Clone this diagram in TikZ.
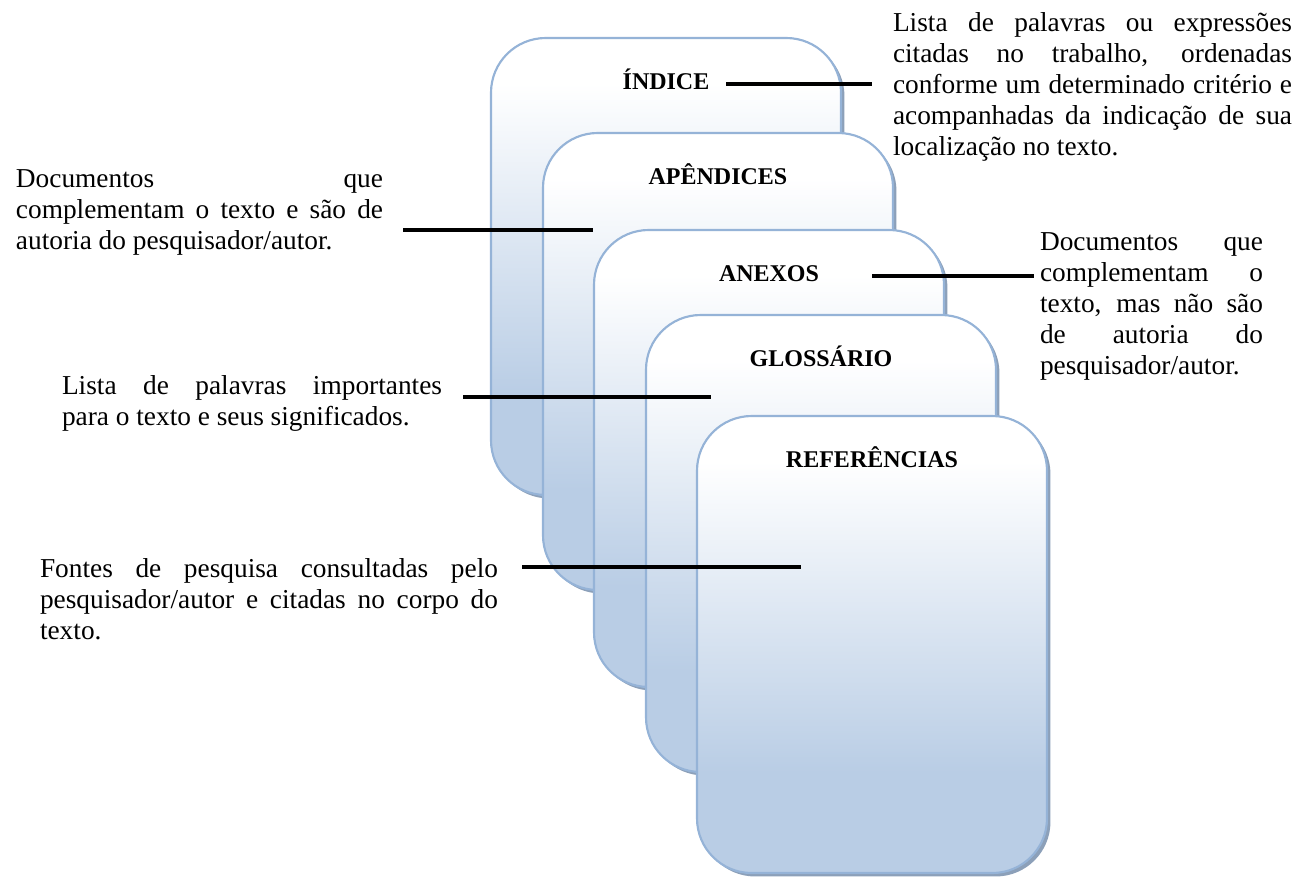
\documentclass[tikz,border=0pt]{standalone}
\usepackage{fontspec}
\setmainfont{Liberation Serif}
\usetikzlibrary{shadows,calc}
\definecolor{cardedge}{RGB}{149,179,215}
\definecolor{cardbot}{RGB}{185,205,229}
\definecolor{cardshadow}{RGB}{140,160,185}
\pgfdeclareverticalshading{cardshade}{100bp}{color(0bp)=(cardbot); color(36bp)=(cardbot); color(70bp)=(white); color(100bp)=(white)}
\newcommand\bodyfont{\fontsize{20.5pt}{23.1pt}\selectfont}
\newcommand\titlefont{\fontsize{18pt}{21pt}\selectfont\bfseries}
\tikzset{
  card/.style={draw=cardedge, line width=1.6pt, rounded corners=41pt, shading=cardshade,
    minimum width=262.5pt, minimum height=342.75pt, anchor=north west, inner sep=0pt, outer sep=0pt,
    drop shadow={shadow xshift=2.6pt, shadow yshift=-2.6pt, fill=cardshadow, opacity=1}},
  ttl/.style={anchor=base, inner sep=0pt, font=\titlefont},
  txt/.style={anchor=north west, inner sep=0pt, outer sep=0pt, align=justify, font=\bodyfont,
    execute at begin node={\tolerance=10000\hyphenpenalty=10000\emergencystretch=0pt}},
  conn/.style={line width=3.6pt, black}
}
\begin{document}
\begin{tikzpicture}[x=0.75pt,y=-0.75pt]
\useasboundingbox (0,0) rectangle (1312,879);
% cards
\node[card] (c1) at (491,38) {};
\node[card] (c2) at (543,133) {};
\node[card] (c3) at (594,230) {};
\node[card] (c4) at (646,315) {};
\node[card] (c5) at (697,416) {};
% titles
\node[ttl] (t1) at ($(c1.north)+(0,51)$) {ÍNDICE};
\node[ttl] (t2) at ($(c2.north)+(0,51)$) {APÊNDICES};
\node[ttl] (t3) at ($(c3.north)+(0,51)$) {ANEXOS};
\node[ttl] (t4) at ($(c4.north)+(0,51)$) {GLOSSÁRIO};
\node[ttl] (t5) at ($(c5.north)+(0,51)$) {REFERÊNCIAS};
% texts
\node[txt, text width=299.25pt] (d1) at (893,10.4) {\strut Lista de palavras ou expressões\linebreak citadas no trabalho, ordenadas\linebreak conforme um determinado critério e\linebreak acompanhadas da indicação de sua\linebreak localização no texto.};
\node[txt, text width=167.25pt] (d3) at (1040,229.4) {\strut Documentos que\linebreak complementam o\linebreak texto, mas não são\linebreak de autoria do\linebreak pesquisador/autor.};
\node[txt, text width=275.25pt] (d2) at (16,166.4) {\strut Documentos que\linebreak complementam o texto e são de\linebreak autoria do pesquisador/autor.};
\node[txt, text width=285pt] (d4) at (62,373.4) {\strut Lista de palavras importantes\linebreak para o texto e seus significados.};
\node[txt, text width=343.5pt] (d5) at (40,556.4) {\strut Fontes de pesquisa consultadas pelo\linebreak pesquisador/autor e citadas no corpo do\linebreak texto.};
% connectors
\coordinate (a1) at (726,84);  \coordinate (b1) at (872,84);
\coordinate (a2) at (403,230); \coordinate (b2) at (593,230);
\coordinate (a3) at (872,276); \coordinate (b3) at (1034,276);
\coordinate (a4) at (463,397); \coordinate (b4) at (711,397);
\coordinate (a5) at (522,567); \coordinate (b5) at (801,567);
\draw[conn] (a1) -- (b1);
\draw[conn] (a2) -- (b2);
\draw[conn] (a3) -- (b3);
\draw[conn] (a4) -- (b4);
\draw[conn] (a5) -- (b5);
\end{tikzpicture}
\end{document}
